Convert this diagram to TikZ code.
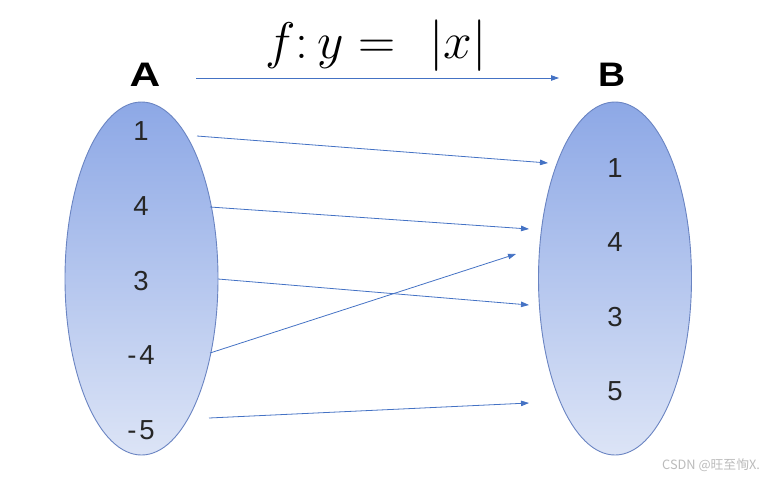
\documentclass[tikz,border=0pt]{standalone}
\usepackage{fontspec}
\setmainfont{Liberation Sans}
\newfontfamily\cjk{Noto Sans CJK SC}
\usetikzlibrary{arrows.meta,shapes.geometric}
\definecolor{arr}{HTML}{4472C4}
\definecolor{ellTop}{HTML}{8DA8E6}
\definecolor{ellBot}{HTML}{DCE4F6}
\definecolor{ellLine}{HTML}{6A84C2}
\definecolor{wm}{HTML}{BBBBBB}
\tikzset{
  setell/.style={ellipse, draw=ellLine, line width=0.9pt, top color=ellTop, bottom color=ellBot, minimum width=153pt, minimum height=353pt, inner sep=0pt},
  elem/.style={font=\fontsize{27.5}{27.5}\selectfont, inner sep=0pt, text=black!85},
  setname/.style={font=\fontsize{34}{34}\selectfont\bfseries, inner sep=0pt},
  maparrow/.style={draw=arr, line width=0.8pt, -{Triangle[length=8pt,width=5.5pt]}, color=arr}
}
\begin{document}
\begin{tikzpicture}[x=1pt,y=-1pt]
\useasboundingbox (0,0) rectangle (767,482);
\node[setell] (EA) at (141.5,278.5) {};
\node[setell] (EB) at (615,278.5) {};
\node[setname, xscale=1.25] (A) at (145,74.5) {A};
\node[setname, xscale=1.1] (B) at (611.5,75) {B};
\node[font=\fontsize{34}{34}\selectfont, inner sep=0pt, scale=2.07] (T) at (376,46) {$f\colon y=\ |x|$};
\node[elem] (a1) at (141,131) {1};
\node[elem] (a2) at (141,206) {4};
\node[elem] (a3) at (141,281) {3};
\node[elem] (a4) at (141,355) {-\kern3pt4};
\node[elem] (a5) at (141,430) {-\kern3pt5};
\node[elem] (b1) at (615,168) {1};
\node[elem] (b2) at (615,242) {4};
\node[elem] (b3) at (615,317) {3};
\node[elem] (b4) at (615,391) {5};
\coordinate (t0) at (196,78);
\coordinate (t1) at (559,78);
\coordinate (s1) at (197,136); \coordinate (e1) at (548,163);
\coordinate (s2) at (210,207); \coordinate (e2) at (529,229);
\coordinate (s3) at (218,279); \coordinate (e3) at (529,305);
\coordinate (s4) at (210,353); \coordinate (e4) at (516,254);
\coordinate (s5) at (209,418); \coordinate (e5) at (529,403);
\draw[maparrow] (t0) -- (t1);
\draw[maparrow] (s1) -- (e1);
\draw[maparrow] (s2) -- (e2);
\draw[maparrow] (s3) -- (e3);
\draw[maparrow] (s4) -- (e4);
\draw[maparrow] (s5) -- (e5);
\node[text=wm, font=\cjk\fontsize{12.8}{12.8}\selectfont, inner sep=0pt, anchor=west] (wm) at (662,465) {CSDN @旺至恂X.};
\end{tikzpicture}
\end{document}
